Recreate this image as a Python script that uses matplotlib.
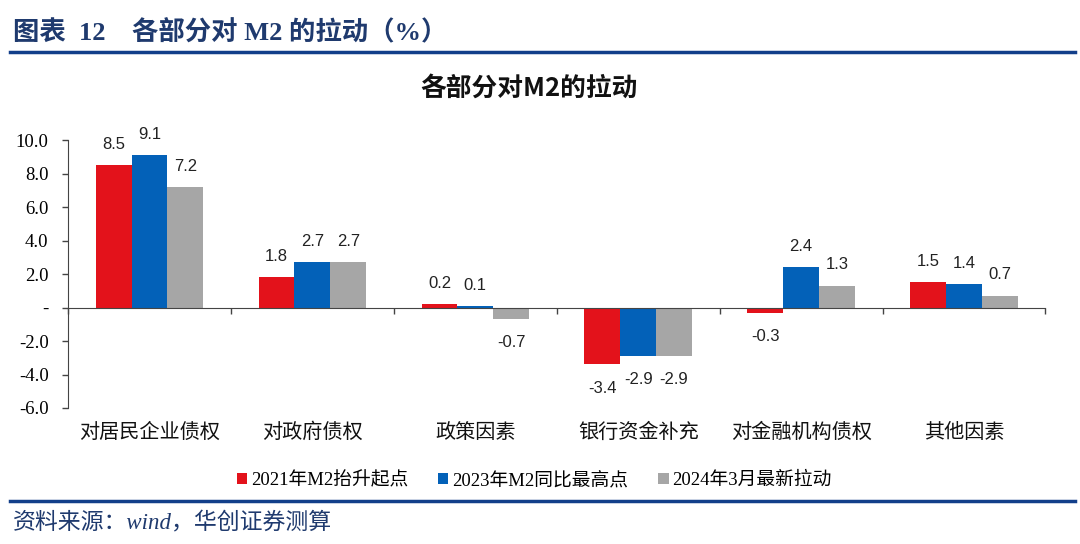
import numpy as np
import matplotlib.pyplot as plt
from matplotlib import transforms

plt.rcParams['font.family'] = ['Noto Sans CJK SC', 'DejaVu Sans']

categories = ['对居民企业债权', '对政府债权', '政策因素', '银行资金补充', '对金融机构债权', '其他因素']
series_names = ['2021年M2抬升起点', '2023年M2同比最高点', '2024年3月最新拉动']
v2021 = [8.5, 1.8, 0.2, -3.4, -0.3, 1.5]
v2023 = [9.1, 2.7, 0.1, -2.9, 2.4, 1.4]
v2024 = [7.2, 2.7, -0.7, -2.9, 1.3, 0.7]
colors = ['#E3121B', '#0361B8', '#A6A6A6']

fig = plt.figure(figsize=(10.8, 5.44), dpi=100)
ax = fig.add_axes([0.063, 0.25, 0.905, 0.4926])

x = np.arange(len(categories))
w = 0.22
for i, (vals, name, c) in enumerate(zip([v2021, v2023, v2024], series_names, colors)):
    pos = x + (i - 1) * w
    ax.bar(pos, vals, width=w, color=c, label=name)
    for px, v in zip(pos, vals):
        off = 15 if v >= 0 else -17
        ax.annotate(f'{v:.1f}', (px, v), xytext=(0, off), textcoords='offset points',
                    ha='center', va='center', fontsize=12, color='#222222',
                    family='Liberation Sans')

ax.set_xlim(-0.5, len(categories) - 0.5)
ax.set_ylim(-6, 10)
yt = np.arange(-6, 11, 2)
ax.set_yticks(yt)
ax.set_yticklabels(['-' if t == 0 else f'{t:.1f}' for t in yt],
                   family='Liberation Serif', fontsize=13.5)
ax.tick_params(axis='y', length=4, width=1, color='#444444', pad=10)

ax.spines['top'].set_visible(False)
ax.spines['right'].set_visible(False)
ax.spines['bottom'].set_position(('data', 0))
ax.spines['left'].set_color('#444444')
ax.spines['bottom'].set_color('#444444')
ax.set_xticks(np.arange(len(categories) + 1) - 0.5)
ax.set_xticklabels([])
ax.tick_params(axis='x', length=4, width=1, color='#444444', direction='out')

trans = transforms.blended_transform_factory(ax.transData, ax.transAxes)
for xi, cat in zip(x, categories):
    ax.text(xi, -0.09, cat, transform=trans, ha='center', va='center', fontsize=14.5, color='#111111')

ax.legend(loc='center', bbox_to_anchor=(0.477, -0.27), ncol=3, frameon=False,
          handlelength=0.55, handleheight=0.55, columnspacing=1.6, handletextpad=0.2,
          prop={'family': ['Liberation Serif', 'Noto Sans CJK SC'], 'size': 13.5})

# 标题和页眉
fig.text(0.012, 0.94, '图表  12    各部分对 M2 的拉动（%）', fontsize=19, fontweight='bold',
         color='#1F3A6E', ha='left', va='center',
         family=['Liberation Serif', 'Noto Sans CJK SC'])
fig.add_artist(plt.Line2D([0.009, 0.995], [0.904, 0.904], color='#123F8A', lw=2.5))
fig.text(0.49, 0.838, '各部分对M2的拉动', fontsize=18.5, fontweight='bold', color='#111111',
         ha='center', va='center')
fig.add_artist(plt.Line2D([0.009, 0.995], [0.079, 0.079], color='#123F8A', lw=2.5))
fig.text(0.012, 0.04, '资料来源：wind，华创证券测算', fontsize=16.5, style='italic',
         color='#1F3A6E', ha='left', va='center',
         family=['Liberation Serif', 'Noto Sans CJK SC'])

fig.savefig('out.png', dpi=100)
